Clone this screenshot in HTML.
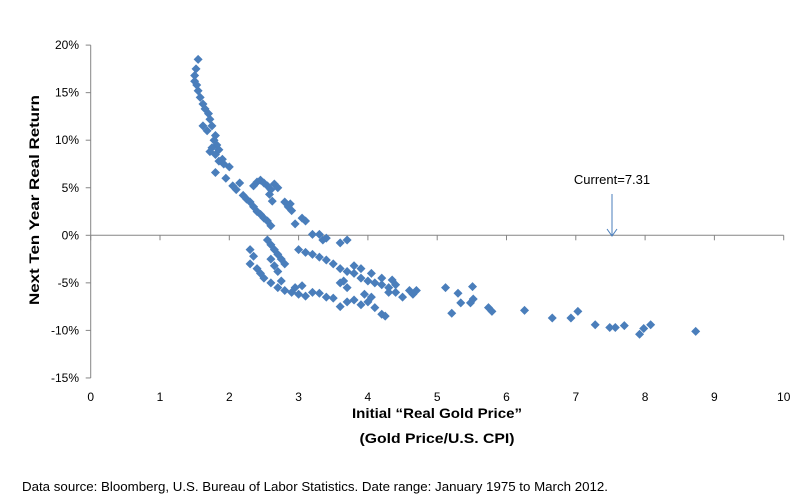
<!DOCTYPE html>
<html><head><meta charset="utf-8"><style>
body{margin:0;background:#fff;font-family:"Liberation Sans",sans-serif;}
svg text{font-family:"Liberation Sans",sans-serif;}
</style></head><body>
<svg width="809" height="499" xmlns="http://www.w3.org/2000/svg">
<g id="axes"></g><g id="pts"></g>
<text x="612" y="184" font-size="13" text-anchor="middle" fill="#000">Current=7.31</text>
<line x1="612" y1="194" x2="612" y2="236" stroke="#4a7ebb" stroke-width="1"/>
<polyline points="607,229 612,236 617,229" fill="none" stroke="#4a7ebb"/>
<text transform="translate(39,200) rotate(-90)" font-size="14" font-weight="bold" text-anchor="middle" textLength="210" lengthAdjust="spacingAndGlyphs">Next Ten Year Real Return</text>
<text x="437" y="418" font-size="14" font-weight="bold" text-anchor="middle" textLength="170" lengthAdjust="spacingAndGlyphs">Initial “Real Gold Price”</text>
<text x="437" y="443" font-size="14" font-weight="bold" text-anchor="middle" textLength="155" lengthAdjust="spacingAndGlyphs">(Gold Price/U.S. CPI)</text>
<text x="22" y="491" font-size="13" textLength="586" lengthAdjust="spacingAndGlyphs">Data source: Bloomberg, U.S. Bureau of Labor Statistics. Date range: January 1975 to March 2012.</text>
</svg>
<script>
const xTicks=[0,1,2,3,4,5,6,7,8,9,10];
const yTicks=[20,15,10,5,0,-5,-10,-15];
const xs=[1.55,1.52,1.5,1.5,1.53,1.55,1.58,1.62,1.65,1.7,1.72,1.75,1.62,1.68,1.8,1.78,1.82,1.75,1.85,1.8,1.72,1.9,1.85,1.92,1.8,2.0,1.95,2.05,2.15,2.1,2.2,2.25,2.3,2.35,2.4,2.45,2.5,2.55,2.6,2.35,2.4,2.45,2.5,2.55,2.6,2.65,2.7,2.58,2.62,2.8,2.85,2.9,2.88,2.95,3.05,3.1,3.2,3.3,3.35,3.4,3.6,3.7,
2.3,2.35,2.3,2.4,2.45,2.5,2.6,2.7,2.8,2.9,3.0,3.1,3.2,3.3,3.4,3.5,2.95,3.05,2.75,3.6,3.7,3.8,3.9,4.0,4.1,4.2,4.25,3.95,4.05,
2.55,2.6,2.65,2.7,2.75,2.8,2.6,2.65,2.7,3.0,3.1,3.2,3.3,3.4,3.5,3.6,3.7,3.8,3.9,4.0,4.1,4.2,4.3,4.4,4.5,3.7,3.8,3.9,4.05,4.2,4.35,4.6,4.65,4.7,4.3,4.4,3.6,3.65,
5.12,5.3,5.51,5.21,5.34,5.48,5.52,5.74,5.79,6.26,6.66,6.93,7.03,7.28,7.49,7.57,7.70,7.92,7.98,8.08,8.73];
const ys=[18.5,17.5,16.8,16.2,15.8,15.2,14.5,13.8,13.3,12.8,12.2,11.5,11.5,11,10.5,10,9.5,9.2,9,8.5,8.8,8,7.8,7.5,6.6,7.2,6,5.2,5.5,4.8,4.2,3.8,3.5,3,2.5,2.2,1.8,1.5,1.0,5.2,5.6,5.8,5.5,5.2,4.8,5.4,5.0,4.3,3.6,3.5,3.0,2.6,3.3,1.2,1.8,1.5,0.1,0.1,-0.5,-0.3,-0.8,-0.5,
-1.5,-2.2,-3,-3.5,-4,-4.5,-5,-5.5,-5.8,-6,-6.2,-6.4,-6.0,-6.1,-6.5,-6.6,-5.5,-5.3,-4.8,-7.5,-7.0,-6.8,-7.3,-7.0,-7.6,-8.3,-8.5,-6.2,-6.5,
-0.5,-1,-1.5,-2,-2.5,-3,-2.5,-3.2,-3.8,-1.5,-1.8,-2,-2.3,-2.6,-3,-3.5,-3.8,-4,-4.5,-4.8,-5,-5.2,-5.5,-6,-6.5,-5.5,-3.2,-3.5,-4,-4.5,-4.7,-5.8,-6.2,-5.8,-6,-5.2,-5,-4.8,
-5.5,-6.1,-5.4,-8.2,-7.1,-7.1,-6.7,-7.6,-8.0,-7.9,-8.7,-8.7,-8.0,-9.4,-9.7,-9.7,-9.5,-10.4,-9.8,-9.4,-10.1];
const NS="http://www.w3.org/2000/svg";
const X=v=>90.7+v*69.3, Y=v=>235.3-v*9.51;
function mk(t,a,p){const e=document.createElementNS(NS,t);for(const k in a)e.setAttribute(k,a[k]);p.appendChild(e);return e;}
const ax=document.getElementById('axes');
let l=mk('line',{x1:X(0),y1:Y(20),x2:X(0),y2:Y(-15),stroke:'#868686'},ax);


l=mk('line',{x1:X(0),y1:Y(0),x2:X(10),y2:Y(0),stroke:'#868686'},ax);


yTicks.forEach(v=>{mk('line',{x1:X(0)-5,y1:Y(v),x2:X(0),y2:Y(v),stroke:'#868686'},ax);
const t=mk('text',{x:79,y:Y(v)+4,'font-size':12,'text-anchor':'end'},ax);t.textContent=v+'%';

});
xTicks.forEach(v=>{mk('line',{x1:X(v),y1:Y(0),x2:X(v),y2:Y(0)+5,stroke:'#868686'},ax);
const t=mk('text',{x:X(v),y:401,'font-size':12,'text-anchor':'middle'},ax);t.textContent=v;

});
const g=document.getElementById('pts');
xs.forEach((x,i)=>{const cx=X(x),cy=Y(ys[i]);
const p=mk('polygon',{points:`${cx},${cy-4.5} ${cx+4.5},${cy} ${cx},${cy+4.5} ${cx-4.5},${cy}`,fill:'#4a7ebb'},g);

});
</script>
</body></html>
